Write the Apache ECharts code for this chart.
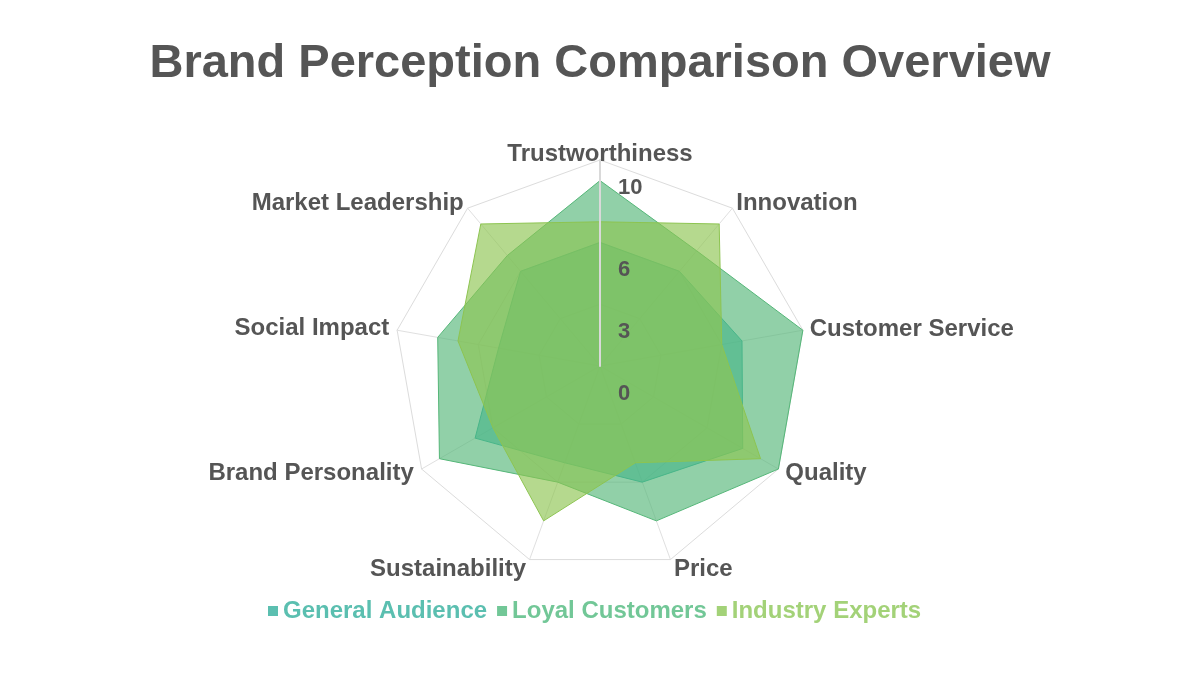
<!DOCTYPE html>
<html>
<head>
<meta charset="utf-8">
<script src="https://cdn.jsdelivr.net/npm/echarts@6/dist/echarts.min.js"></script>
<style>
html,body{margin:0;padding:0;background:#fff;}
#chart{width:1200px;height:675px;}
</style>
</head>
<body>
<div id="chart"></div>
<script>
// Categories listed clockwise from the top
const categories = ['Trustworthiness', 'Innovation', 'Customer Service', 'Quality', 'Price', 'Sustainability', 'Brand Personality', 'Social Impact', 'Market Leadership'];
const generalAudience = [6, 6, 7, 8, 6, 5, 7, 5, 6];
const loyalCustomers = [9, 7.3, 10, 10, 8, 6, 9, 8, 7];
const industryExperts = [7, 9, 6, 9, 5, 8, 6, 7, 9];
const seriesNames = ['General Audience', 'Loyal Customers', 'Industry Experts'];
const tickValues = [0, 3, 6, 10];
const axisMax = 10;

const FONT = "'Liberation Sans', Arial, Helvetica, sans-serif";
const seriesColors = ['#2fb3a6', '#56b779', '#8dc451'];
const legendColors = ['#5bbfb0', '#72c797', '#a3d278'];
// distance between each spoke end and its name (same clockwise order)
const nameGaps = [-6, 6, 7, 8, 10, 10, 9, 8, 6];

// ECharts places indicators counter-clockwise; reorder so they read clockwise
const order = categories.map((_, i) => (i === 0 ? 0 : categories.length - i));
const reorder = arr => order.map(i => arr[i]);

const ringColors = [];
for (let i = 0; i <= axisMax; i++) {
  ringColors.push(i > 0 && tickValues.indexOf(i) >= 0 ? '#dcdcdc' : 'rgba(0,0,0,0)');
}

const chart = echarts.init(document.getElementById('chart'));
const seriesValues = [generalAudience, loyalCustomers, industryExperts];
const orderedNames = reorder(categories);
const orderedGaps = reorder(nameGaps);

chart.setOption({
  backgroundColor: '#ffffff',
  animation: false,
  title: {
    text: 'Brand Perception Comparison Overview',
    left: 'center',
    top: 36,
    textStyle: { color: '#555555', fontSize: 47, fontWeight: 'bold', fontFamily: FONT }
  },
  legend: {
    top: 594,
    left: 263,
    icon: 'rect',
    itemWidth: 10,
    itemHeight: 10,
    itemGap: 10,
    textStyle: { fontSize: 24, fontWeight: 'bold', fontFamily: FONT },
    data: seriesNames.map((n, i) => ({
      name: n,
      itemStyle: { color: legendColors[i] },
      textStyle: { color: legendColors[i] }
    }))
  },
  radar: [
    {
      center: ['50%', 366],
      radius: 206,
      startAngle: 90,
      splitNumber: axisMax,
      shape: 'polygon',
      nameGap: 6,
      indicator: orderedNames.map((n, i) => ({ name: n, min: 0, max: axisMax, nameGap: orderedGaps[i] })),
      axisName: { color: '#555555', fontSize: 24, fontWeight: 'bold', fontFamily: FONT },
      splitLine: { lineStyle: { color: ringColors, width: 1 } },
      splitArea: { show: false },
      axisLine: { lineStyle: { color: '#e0e0e0', width: 1 } },
      axisTick: { show: false },
      axisLabel: { show: false }
    },
    {
      center: ['50%', 366],
      radius: 206,
      startAngle: 90,
      splitNumber: axisMax,
      shape: 'polygon',
      z: 5,
      axisName: { show: false },
      indicator: orderedNames.map((n, i) => ({
        name: '',
        min: 0,
        max: axisMax,
        axisLine: { show: i === 0 },
        axisLabel: { show: i === 0 }
      })),
      splitLine: { show: false },
      splitArea: { show: false },
      axisTick: { show: false },
      axisLine: { show: false, lineStyle: { color: '#d9d9d9', width: 2 } },
      axisLabel: {
        show: false,
        color: '#555555',
        fontSize: 22,
        fontWeight: 'bold',
        fontFamily: FONT,
        margin: -18,
        align: 'left',
        verticalAlign: 'top',
        lineHeight: 56,
        formatter: function (v) {
          const r = Math.round(v);
          return tickValues.indexOf(r) >= 0 ? String(r) : '';
        }
      }
    }
  ],
  series: [
    {
      type: 'radar',
      radarIndex: 0,
      symbol: 'none',
      data: seriesNames.map((n, i) => ({
        name: n,
        value: reorder(seriesValues[i]),
        itemStyle: { color: seriesColors[i] },
        lineStyle: { color: seriesColors[i], width: 1 },
        areaStyle: { color: seriesColors[i], opacity: 0.65 }
      }))
    }
  ]
});
</script>
</body>
</html>
